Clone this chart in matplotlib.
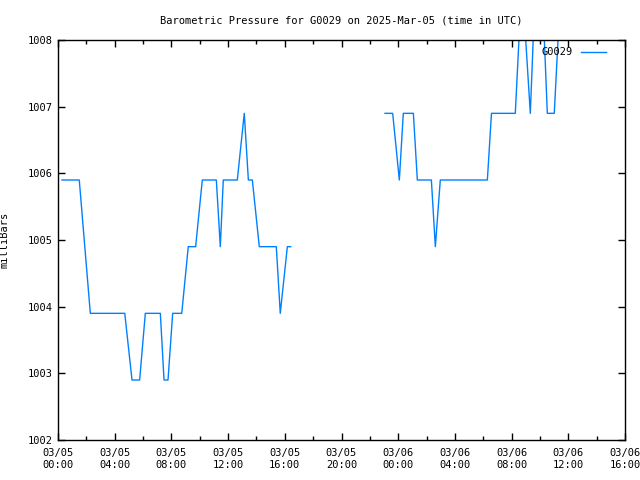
import numpy as np
import matplotlib
matplotlib.use("Agg")
import matplotlib.pyplot as plt
from matplotlib.ticker import MultipleLocator

# hours since 03/05 00:00 UTC, NaN marks the data gap
hours = [0.28, 1.50, 2.28, 4.71, 5.22, 5.76, 6.16, 7.22, 7.48, 7.76, 8.09,
         8.73, 9.19, 9.71, 10.18, 11.17, 11.45, 11.66, 12.65, 13.14, 13.43,
         13.71, 14.20, 15.40, 15.68, 16.18, 16.42,
         np.nan,
         23.07, 23.61, 24.08, 24.36, 25.07, 25.35, 26.34, 26.62, 26.97, 30.29,
         30.58, 32.26, 32.73, 33.32, 33.69, 34.14, 34.52, 35.01, 35.49]
pressure = [1005.9, 1005.9, 1003.9, 1003.9, 1002.9, 1002.9, 1003.9, 1003.9,
            1002.9, 1002.9, 1003.9, 1003.9, 1004.9, 1004.9, 1005.9, 1005.9,
            1004.9, 1005.9, 1005.9, 1006.9, 1005.9, 1005.9, 1004.9, 1004.9,
            1003.9, 1004.9, 1004.9,
            np.nan,
            1006.9, 1006.9, 1005.9, 1006.9, 1006.9, 1005.9, 1005.9, 1004.9,
            1005.9, 1005.9, 1006.9, 1006.9, 1008.9, 1006.9, 1008.9, 1008.9,
            1006.9, 1006.9, 1008.9]

xtick_hours = [0, 4, 8, 12, 16, 20, 24, 28, 32, 36, 40]
xtick_labels = ["03/05\n00:00", "03/05\n04:00", "03/05\n08:00", "03/05\n12:00",
                "03/05\n16:00", "03/05\n20:00", "03/06\n00:00", "03/06\n04:00",
                "03/06\n08:00", "03/06\n12:00", "03/06\n16:00"]

plt.rcParams['font.family'] = 'DejaVu Sans Mono'
plt.rcParams['font.size'] = 7.5

fig = plt.figure(figsize=(6.4, 4.8), dpi=100)
ax = fig.add_axes([58 / 640, 40 / 480, 567 / 640, 400 / 480])

ax.plot(hours, pressure, color='#0080ff', linewidth=1.0, label='G0029')

ax.set_xlim(0, 40)
ax.set_ylim(1002, 1008)
ax.set_xticks(xtick_hours)
ax.set_xticklabels(xtick_labels)
ax.xaxis.set_minor_locator(MultipleLocator(2))
ax.yaxis.set_major_locator(MultipleLocator(1))
ax.tick_params(which='both', direction='in', top=True, right=True, width=1)
ax.tick_params(which='major', length=5)
ax.tick_params(axis='x', which='major', pad=6)
ax.tick_params(which='minor', length=3)
for s in ax.spines.values():
    s.set_linewidth(1)

ax.set_title('Barometric Pressure for G0029 on 2025-Mar-05 (time in UTC)',
             fontsize=7.5, pad=12)
ax.set_ylabel('milliBars')
ax.yaxis.set_label_coords(-48 / 567, 0.5)

ax.legend(loc='upper right', bbox_to_anchor=(1 - 12 / 567, 1), frameon=False,
          markerfirst=False, handlelength=2.4, borderaxespad=0.3, fontsize=7.5)

fig.savefig('out.png', dpi=100)
